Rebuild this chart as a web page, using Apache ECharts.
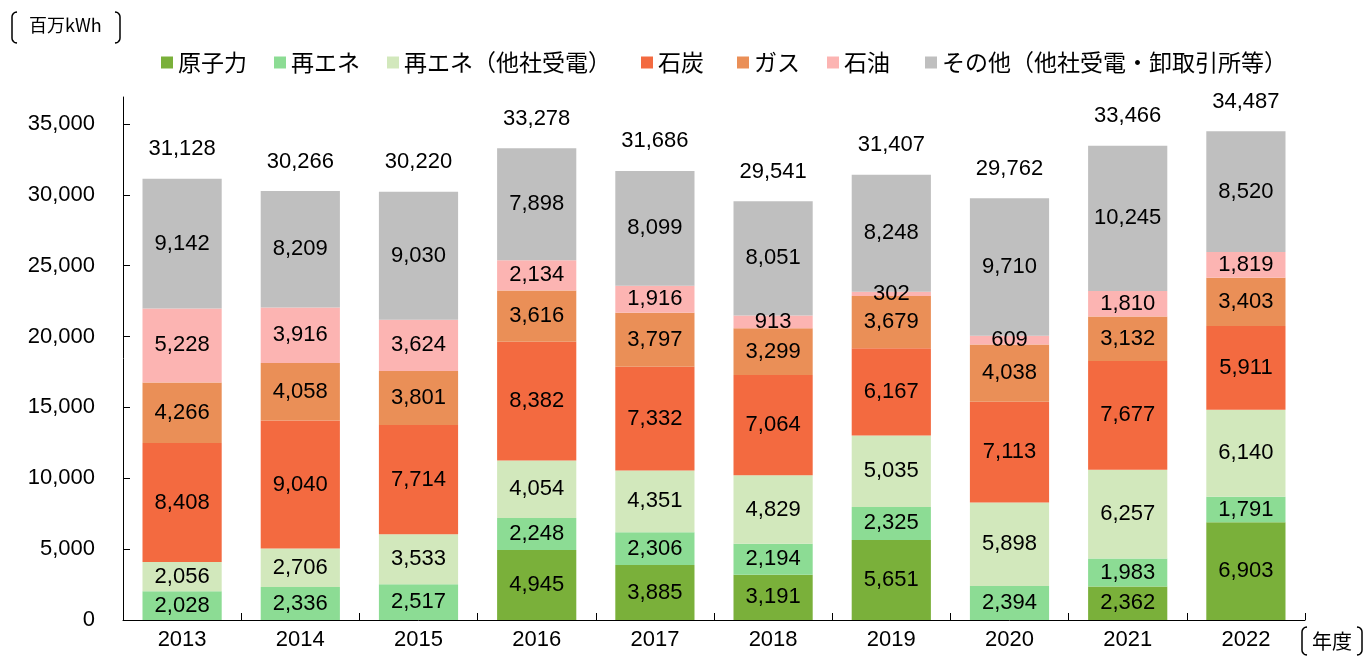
<!DOCTYPE html>
<html><head><meta charset="utf-8">
<script src="https://cdn.jsdelivr.net/npm/echarts@6/dist/echarts.min.js"></script>
<style>html,body{margin:0;padding:0;background:#fff}#c{width:1366px;height:656px}</style>
</head><body><div id="c"></div>
<script>
const years = ['2013','2014','2015','2016','2017','2018','2019','2020','2021','2022'];
const nuclear   = [0,0,0,4945,3885,3191,5651,0,2362,6903];
const renew     = [2028,2336,2517,2248,2306,2194,2325,2394,1983,1791];
const renewBuy  = [2056,2706,3533,4054,4351,4829,5035,5898,6257,6140];
const coal      = [8408,9040,7714,8382,7332,7064,6167,7113,7677,5911];
const gas       = [4266,4058,3801,3616,3797,3299,3679,4038,3132,3403];
const oil       = [5228,3916,3624,2134,1916,913,302,609,1810,1819];
const other     = [9142,8209,9030,7898,8099,8051,8248,9710,10245,8520];
const totals    = [31128,30266,30220,33278,31686,29541,31407,29762,33466,34487];
const yTicks    = [0,5000,10000,15000,20000,25000,30000,35000];
const seriesNames = ['原子力','再エネ','再エネ（他社受電）','石炭','ガス','石油','その他（他社受電・卸取引所等）'];
const seriesData = [nuclear, renew, renewBuy, coal, gas, oil, other];
const colors = ['#7AB03A','#8CDC94','#D2E8BC','#F36A40','#EA8F57','#FCB4B2','#BFBFBF'];
const legendLeft = [161,274,387,641,737,827,925];

const NUM = "'Liberation Sans', Arial, sans-serif";
const JP = "'Noto Sans CJK JP', sans-serif";
const fmt = v => v.toLocaleString('en-US');

const chart = echarts.init(document.getElementById('c'), null, {renderer:'canvas'});
const series = seriesNames.map((n,i)=>({
  name:n, type:'bar', stack:'a', barWidth:'67%',
  data: seriesData[i],
  itemStyle:{color:colors[i]},
  label:{show:true, position:'inside', color:'#000', fontSize:22, fontFamily:NUM,
    formatter:p=> p.value ? fmt(p.value) : ''}
}));
series.push({
  name:'total', type:'line', data: totals, symbol:'circle', symbolSize:1, showSymbol:true, silent:true,
  itemStyle:{color:'rgba(0,0,0,0)'},
  lineStyle:{width:0, opacity:0},
  label:{show:true, position:'top', distance:18, color:'#000', fontSize:22, fontFamily:NUM,
    formatter:p=>fmt(p.value)}
});
const legends = seriesNames.map((n,i)=>({
  data:[n], left:legendLeft[i], top:51, icon:'rect', itemWidth:12, itemHeight:12, itemGap:5,
  selectedMode:false, padding:0,
  textStyle:{fontSize:23, fontFamily:JP, color:'#000'}
}));
function bracket(x, y1, y2, dir){
  const r = 5, pts = [];
  for (let k=0;k<=6;k++){ const a = Math.PI/2 * k/6; pts.push([x+dir*r*(1-Math.sin(a)), y1+r*(1-Math.cos(a))]); }
  for (let k=6;k>=0;k--){ const a = Math.PI/2 * k/6; pts.push([x+dir*r*(1-Math.sin(a)), y2-r*(1-Math.cos(a))]); }
  return {type:'polyline', shape:{points:pts}, style:{stroke:'#000', lineWidth:1.5, fill:null}};
}
chart.setOption({
  animation:false,
  color:colors,
  legend: legends,
  grid:{left:123, right:61, top:97, bottom:36},
  xAxis:{type:'category', data:years,
    axisLine:{lineStyle:{color:'#000', width:1}},
    axisTick:{show:true, inside:true, length:7, lineStyle:{color:'#000'}},
    axisLabel:{color:'#000', fontSize:22, fontFamily:NUM, margin:9}},
  yAxis:{type:'value', min:0, max:36900, interval:5000,
    axisLine:{show:true, lineStyle:{color:'#000', width:1}},
    axisTick:{show:true, inside:true, length:7, customValues:yTicks, lineStyle:{color:'#000'}},
    splitLine:{show:false},
    axisLabel:{color:'#000', fontSize:22, fontFamily:NUM, margin:28, customValues:yTicks,
      formatter:v=>fmt(v)}},
  graphic:[
    bracket(12,12,43,1), bracket(120,12,43,-1),
    {type:'text', left:29, top:16, style:{text:'百万kWh', fontSize:18, fontFamily:JP, fill:'#000'}},
    bracket(1302,627,655,1), bracket(1362,627,655,-1),
    {type:'text', left:1312, top:631, style:{text:'年度', fontSize:20, fontFamily:JP, fill:'#000'}}
  ],
  series: series
});
</script></body></html>
